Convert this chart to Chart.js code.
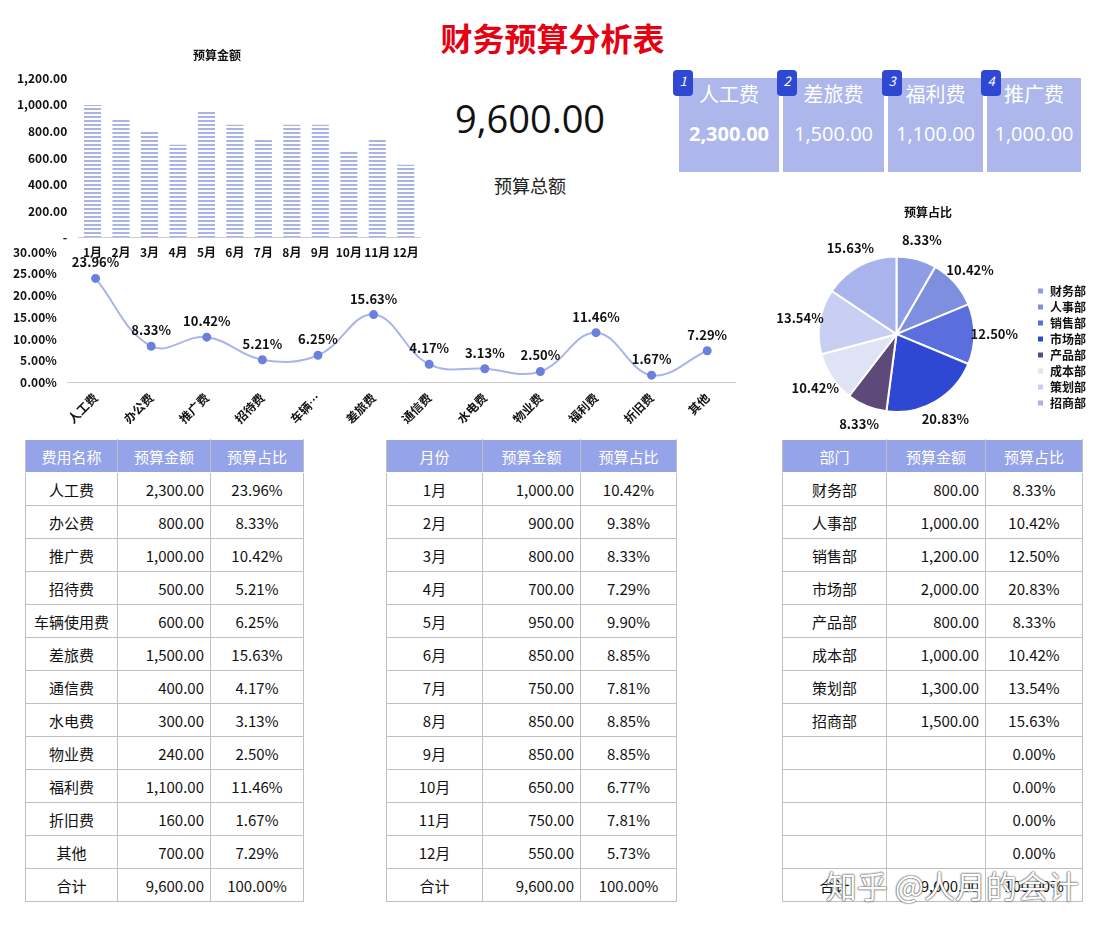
<!DOCTYPE html>
<html>
<head>
<meta charset="utf-8">
<script src="https://cdn.jsdelivr.net/npm/chart.js@4.4.0/dist/chart.umd.min.js"></script>
<style>
  body { margin: 0; width: 1105px; height: 935px; position: relative; background: #fff;
         font-family: "Noto Sans CJK SC", "Noto Sans", sans-serif; overflow: hidden; }
  .abs { position: absolute; }
  #title { left: 0; width: 1105px; top: 14px; text-align: center; color: #e60012; font-size: 32px; font-weight: bold; }
  #total { left: 430px; width: 200px; top: 92px; text-align: center; font-size: 38px; color: #111; font-family: "Open Sans", sans-serif; }
  #totalLbl { left: 430px; width: 200px; top: 172px; text-align: center; font-size: 18px; color: #222; }
  .card { top: 78px; height: 94px; background: #adb7ec; color: #fff; text-align: center; }
  .card .n { font-size: 20px; margin-top: 1px; }
  .card .v { font-size: 20px; margin-top: 12px; font-family: "Open Sans", sans-serif; }
  .badge { position: absolute; left: -6px; top: -8px; width: 20px; height: 26px; background: #2f48d4; border-radius: 4px;
           color: #fff; font-size: 13px; font-style: italic; text-align: center; line-height: 22px; }
  table { position: absolute; border-collapse: collapse; font-size: 15px; color: #111; }
  td, th { border: 1px solid #bfbfbf; height: 32px; padding: 0 6px; }
  th { background: #95a3e8; color: #fff; font-weight: normal; border-color: #fff #bfbfbf; }
  td.c { text-align: center; } td.r { text-align: right; }
  #wm { right: 26px; top: 862px; font-size: 31px; color: #fff; text-shadow: 0 0 2px #333, 0 0 1px #333; }
</style>
</head>
<body>
<div id="title" class="abs">财务预算分析表</div>
<div id="total" class="abs"></div>
<div id="totalLbl" class="abs">预算总额</div>
<div id="cards"></div>
<div class="abs" style="left:0;top:48px;width:430px;height:212px"><canvas id="bar"></canvas></div>
<div class="abs" style="left:0;top:242px;width:745px;height:184px"><canvas id="line"></canvas></div>
<div class="abs" style="left:760px;top:205px;width:340px;height:228px"><canvas id="pie"></canvas></div>
<div id="tables"></div>
<div id="wm" class="abs">知乎 @人月的会计</div>
<script>
const months = ["1月","2月","3月","4月","5月","6月","7月","8月","9月","10月","11月","12月"];
const monthValues = [1000, 900, 800, 700, 950, 850, 750, 850, 850, 650, 750, 550];
const costNames = ["人工费","办公费","推广费","招待费","车辆使用费","差旅费","通信费","水电费","物业费","福利费","折旧费","其他"];
const costShortNames = ["人工费","办公费","推广费","招待费","车辆…","差旅费","通信费","水电费","物业费","福利费","折旧费","其他"];
const costValues = [2300, 800, 1000, 500, 600, 1500, 400, 300, 240, 1100, 160, 700];
const depts = ["财务部","人事部","销售部","市场部","产品部","成本部","策划部","招商部"];
const deptValues = [800, 1000, 1200, 2000, 800, 1000, 1300, 1500];
const deptColors = ["#8e9de6","#7f8fe0","#5a6ede","#2f48d4","#5e4a7a","#e0e3f6","#c9cff2","#aab4ec"];
const topCards = [["人工费", 2300], ["差旅费", 1500], ["福利费", 1100], ["推广费", 1000]];

const total = costValues.reduce((a, b) => a + b, 0);
const money = v => v.toLocaleString("en-US", { minimumFractionDigits: 2, maximumFractionDigits: 2 });
const pct = v => (v * 100).toFixed(2) + "%";
const costPct = costValues.map(v => v / total * 100);
const deptTotal = deptValues.reduce((a, b) => a + b, 0);
const deptPct = deptValues.map(v => v / deptTotal * 100);

document.getElementById("total").textContent = money(total);

// cards
const cardX = [679, 783, 888, 987];
const cardW = [100, 101, 95, 94];
document.getElementById("cards").innerHTML = topCards.map(([n, v], i) =>
  `<div class="abs card" style="left:${cardX[i]}px;width:${cardW[i]}px"><div class="badge">${i + 1}</div>
   <div class="n">${n}</div><div class="v" style="${i === 0 ? 'font-weight:bold' : ''}">${money(v)}</div></div>`).join("");

// tables
function makeTable(left, widths, head, rows) {
  let h = `<table style="left:${left}px;top:439px"><tr>${head.map((t, i) => `<th style="width:${widths[i] - 13}px">${t}</th>`).join("")}</tr>`;
  rows.forEach(r => { h += `<tr><td class="c">${r[0]}</td><td class="r">${r[1]}</td><td class="c">${r[2]}</td></tr>`; });
  return h + "</table>";
}
const t1 = costNames.map((n, i) => [n, money(costValues[i]), pct(costValues[i] / total)]);
t1.push(["合计", money(total), "100.00%"]);
const monthTotal = monthValues.reduce((a, b) => a + b, 0);
const t2 = months.map((n, i) => [n, money(monthValues[i]), pct(monthValues[i] / monthTotal)]);
t2.push(["合计", money(monthTotal), "100.00%"]);
const t3 = depts.map((n, i) => [n, money(deptValues[i]), pct(deptValues[i] / deptTotal)]);
for (let i = 0; i < 4; i++) t3.push(["", "", "0.00%"]);
t3.push(["合计", money(deptTotal), "100.00%"]);
document.getElementById("tables").innerHTML =
  makeTable(25, [92, 93, 93], ["费用名称","预算金额","预算占比"], t1) +
  makeTable(386, [96, 98, 96], ["月份","预算金额","预算占比"], t2) +
  makeTable(782, [104, 99, 97], ["部门","预算金额","预算占比"], t3);

// striped bar pattern
const pc = document.createElement("canvas");
pc.width = 4; pc.height = 4;
const px = pc.getContext("2d");
px.fillStyle = "#ffffff"; px.fillRect(0, 0, 4, 4);
px.fillStyle = "#a9b3e6"; px.fillRect(0, 0, 4, 2);
const stripe = px.createPattern(pc, "repeat");

const boldFont = { family: "Noto Sans CJK SC", size: 12, weight: "bold" };

new Chart(document.getElementById("bar"), {
  type: "bar",
  data: { labels: months, datasets: [{ data: monthValues, backgroundColor: stripe, barPercentage: 0.6, categoryPercentage: 1 }] },
  options: {
    responsive: true, maintainAspectRatio: false, animation: false,
    layout: { padding: { left: 14, right: 10 } },
    plugins: { legend: { display: false }, tooltip: { enabled: false },
      title: { display: true, text: "预算金额", color: "#111", font: boldFont, padding: { top: 0, bottom: 16 } } },
    scales: {
      x: { grid: { display: false }, border: { color: "#ccc" }, ticks: { color: "#111", font: boldFont, maxRotation: 0, autoSkip: false, padding: 0 } },
      y: { min: 0, max: 1200, grid: { display: false }, border: { display: false },
        ticks: { stepSize: 200, color: "#111", font: boldFont, callback: v => v === 0 ? "-" : money(v) } }
    }
  }
});

const labelPlugin = {
  id: "labels",
  afterDatasetsDraw(chart, args, opts) {
    const ctx = chart.ctx;
    const meta = chart.getDatasetMeta(0);
    ctx.save();
    ctx.font = "bold 13px 'Noto Sans CJK SC'";
    ctx.fillStyle = "#111";
    ctx.textAlign = "center";
    ctx.textBaseline = "middle";
    meta.data.forEach((el, i) => {
      const txt = opts.values[i].toFixed(2) + "%";
      if (chart.config.type === "line") {
        ctx.fillText(txt, el.x, el.y - 16);
      } else {
        const mid = (el.startAngle + el.endAngle) / 2;
        const r = el.outerRadius + 20;
        ctx.fillText(txt, el.x + Math.cos(mid) * r, el.y + Math.sin(mid) * r);
      }
    });
    ctx.restore();
  }
};

new Chart(document.getElementById("line"), {
  type: "line",
  data: { labels: costShortNames, datasets: [{ data: costPct, borderColor: "#aab4ec", borderWidth: 2, tension: 0.4,
    pointBackgroundColor: "#6a80dc", pointBorderColor: "#6a80dc", pointRadius: 3.5 }] },
  plugins: [labelPlugin],
  options: {
    responsive: true, maintainAspectRatio: false, animation: false,
    layout: { padding: { left: 10, right: 10, top: 6 } },
    plugins: { legend: { display: false }, tooltip: { enabled: false }, labels: { values: costPct } },
    scales: {
      x: { offset: true, grid: { display: false }, border: { color: "#ccc" },
        ticks: { color: "#111", font: boldFont, maxRotation: 45, minRotation: 45, autoSkip: false, padding: 0 } },
      y: { min: 0, max: 30, grid: { display: false }, border: { display: false },
        ticks: { stepSize: 5, color: "#111", font: boldFont, callback: v => v.toFixed(2) + "%" } }
    }
  }
});

new Chart(document.getElementById("pie"), {
  type: "pie",
  data: { labels: depts, datasets: [{ data: deptValues, backgroundColor: deptColors, borderColor: "#fff", borderWidth: 2 }] },
  plugins: [labelPlugin],
  options: {
    responsive: true, maintainAspectRatio: false, animation: false,
    layout: { padding: { top: 0, bottom: 20, left: 0, right: 4 } },
    plugins: { tooltip: { enabled: false }, labels: { values: deptPct },
      title: { display: true, text: "预算占比", color: "#111", font: boldFont, padding: { top: 0, bottom: 36 } },
      legend: { position: "right", align: "end", labels: { boxWidth: 7, boxHeight: 7, padding: 4, color: "#111", font: { family: "Noto Sans CJK SC", size: 12, weight: "bold" } } } }
  }
});
</script>
</body>
</html>
